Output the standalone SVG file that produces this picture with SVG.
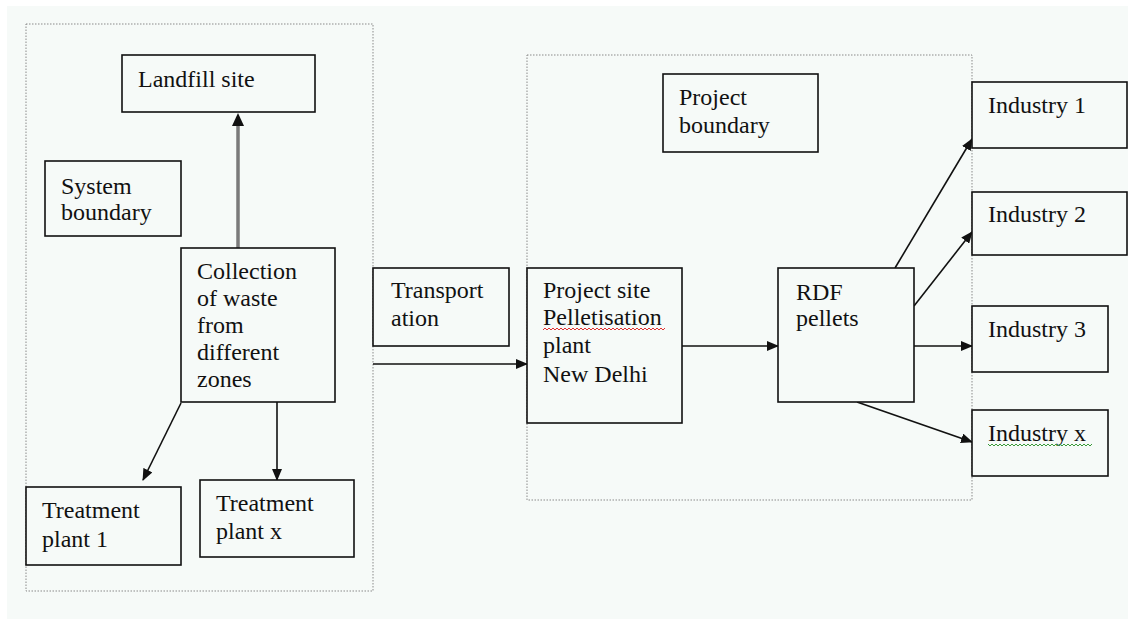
<svg xmlns="http://www.w3.org/2000/svg" width="1128" height="619" viewBox="0 0 1128 619">
<style>
.bx{fill:#f6faf8;stroke:#111;stroke-width:1.6}
.t{font-family:"Liberation Serif","Times New Roman",serif;font-size:24px;fill:#111}
.bd{fill:none;stroke:#8a8a8a;stroke-width:1;stroke-dasharray:1.5 1.5}
.c{fill:none;stroke:#111;stroke-width:1.6;marker-end:url(#ah)}
</style>
<defs>
<marker id="ah" markerWidth="12" markerHeight="10" refX="11" refY="5" orient="auto" markerUnits="userSpaceOnUse">
<path d="M0,0 L12,5 L0,10 Z" fill="#111"/>
</marker>
</defs>
<rect x="0" y="0" width="1128" height="619" fill="#ffffff"/>
<rect x="7" y="6" width="1121" height="613" fill="#f6faf8"/>
<g id="system-boundary-area"><rect class="bd" x="26" y="24" width="347" height="567"/></g>
<g id="project-boundary-area"><rect class="bd" x="527" y="55" width="445" height="445"/></g>
<g id="connectors">
<line x1="238" y1="248" x2="238" y2="125" stroke="#7a7a7a" stroke-width="3.5"/>
<path d="M232,126 L238,113 L244,126 Z" fill="#111"/>
<line class="c" x1="181" y1="403" x2="143" y2="480"/>
<line class="c" x1="277" y1="402" x2="277" y2="480"/>
<line class="c" x1="373" y1="364" x2="527" y2="364"/>
<line class="c" x1="625" y1="346" x2="778" y2="346"/>
<line class="c" x1="895" y1="268" x2="972" y2="139"/>
<line class="c" x1="914" y1="306" x2="972" y2="232"/>
<line class="c" x1="914" y1="346" x2="972" y2="346"/>
<line class="c" x1="857" y1="402" x2="972" y2="442"/>
</g>
<g id="landfill"><rect class="bx" x="122" y="55" width="193" height="57"/><text class="t" x="138" y="87">Landfill site</text></g>
<g id="system-boundary"><rect class="bx" x="45" y="161" width="136" height="75"/><text class="t" x="61" y="194">System</text><text class="t" x="61" y="220">boundary</text></g>
<g id="collection"><rect class="bx" x="181" y="248" width="154" height="154"/>
<text class="t" x="197" y="279">Collection</text><text class="t" x="197" y="306">of waste</text><text class="t" x="197" y="333">from</text><text class="t" x="197" y="360">different</text><text class="t" x="197" y="387">zones</text></g>
<g id="treatment1"><rect class="bx" x="26" y="487" width="155" height="78"/><text class="t" x="42" y="518">Treatment</text><text class="t" x="42" y="547">plant 1</text></g>
<g id="treatmentx"><rect class="bx" x="200" y="480" width="154" height="77"/><text class="t" x="216" y="511">Treatment</text><text class="t" x="216" y="539">plant x</text></g>
<g id="transportation"><rect class="bx" x="373" y="268" width="136" height="78"/><text class="t" x="391" y="298">Transport</text><text class="t" x="391" y="326">ation</text></g>
<g id="project-boundary"><rect class="bx" x="663" y="74" width="155" height="78"/><text class="t" x="679" y="105">Project</text><text class="t" x="679" y="133">boundary</text></g>
<g id="project-site"><rect class="bx" x="527" y="268" width="155" height="155"/>
<text class="t" x="543" y="298">Project site</text><text class="t" x="543" y="325">Pelletisation</text><text class="t" x="543" y="353">plant</text><text class="t" x="543" y="382">New Delhi</text>
<path d="M543,330 l2,-2 2,2 2,-2 2,2 2,-2 2,2 2,-2 2,2 2,-2 2,2 2,-2 2,2 2,-2 2,2 2,-2 2,2 2,-2 2,2 2,-2 2,2 2,-2 2,2 2,-2 2,2 2,-2 2,2 2,-2 2,2 2,-2 2,2 2,-2 2,2 2,-2 2,2 2,-2 2,2 2,-2 2,2 2,-2 2,2 2,-2 2,2 2,-2 2,2 2,-2 2,2 2,-2 2,2 2,-2 2,2 2,-2 2,2 2,-2 2,2 2,-2 2,2 2,-2 2,2 2,-2 2,2 2,-2" fill="none" stroke="#e03030" stroke-width="1"/>
</g>
<g id="rdf"><rect class="bx" x="778" y="268" width="136" height="134"/><text class="t" x="796" y="300">RDF</text><text class="t" x="796" y="326">pellets</text></g>
<g id="industry1"><rect class="bx" x="972" y="82" width="155" height="66"/><text class="t" x="988" y="113">Industry 1</text></g>
<g id="industry2"><rect class="bx" x="972" y="192" width="155" height="63"/><text class="t" x="988" y="222">Industry 2</text></g>
<g id="industry3"><rect class="bx" x="972" y="306" width="136" height="66"/><text class="t" x="988" y="337">Industry 3</text></g>
<g id="industryx"><rect class="bx" x="972" y="410" width="136" height="66"/><text class="t" x="988" y="441">Industry  x</text>
<path d="M988,444 l2,2 2,-2 2,2 2,-2 2,2 2,-2 2,2 2,-2 2,2 2,-2 2,2 2,-2 2,2 2,-2 2,2 2,-2 2,2 2,-2 2,2 2,-2 2,2 2,-2 2,2 2,-2 2,2 2,-2 2,2 2,-2 2,2 2,-2 2,2 2,-2 2,2 2,-2 2,2 2,-2 2,2 2,-2 2,2 2,-2 2,2 2,-2 2,2 2,-2 2,2 2,-2 2,2 2,-2 2,2 2,-2 2,2 2,-2" fill="none" stroke="#3a9a3a" stroke-width="1"/>
</g>
</svg>
